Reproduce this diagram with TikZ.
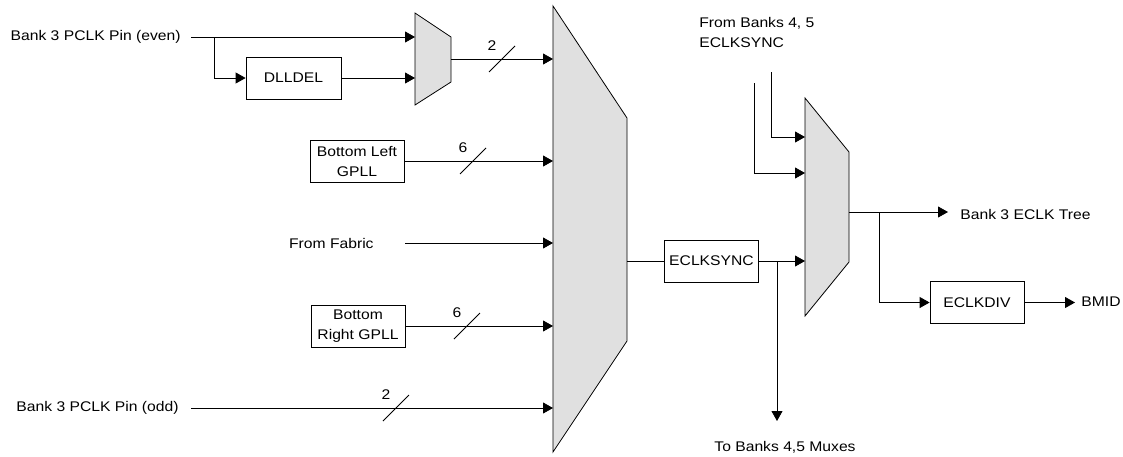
\documentclass[tikz,border=0pt]{standalone}
\usepackage{fontspec}
\setmainfont{Liberation Sans}[FakeStretch=1.12]
\usetikzlibrary{arrows.meta}
\definecolor{muxgray}{RGB}{224,224,224}
\begin{document}
\begin{tikzpicture}[x=1pt,y=-1pt, line width=0.8pt,
  arr/.style={-{Triangle[length=10pt,width=11pt]}},
  tfont/.style={font=\fontsize{14}{20}\selectfont},
  box/.style={draw, tfont, minimum width=94pt, minimum height=42pt, inner sep=0pt, align=center},
  lbl/.style={tfont, inner sep=0pt},
  mux/.style={draw, fill=muxgray, line join=miter}]
\useasboundingbox (0,0) rectangle (1123,456);

% --- first small mux and DLLDEL
\node[lbl, anchor=east] (even) at (181,37) {Bank 3 PCLK Pin (even)};
\coordinate (evenS) at (191,37);
\coordinate (split) at (214,37);
\node[box, minimum width=95pt] (dll) at (293.5,78) {DLLDEL};
\draw[mux] (415,13) -- (451,37) -- (451,82) -- (415,105) -- cycle;
\coordinate (m1a) at (415,37);
\coordinate (m1b) at (415,78);
\coordinate (m1o) at (451,59);
\draw[arr] (evenS) -- (m1a);
\draw[arr] (split) |- (dll.west);
\draw[arr] (dll.east) -- (m1b);

% --- big mux
\draw[mux] (553,6) -- (627,118) -- (627,341) -- (553,452) -- cycle;
\coordinate (bm1) at (553,59);
\coordinate (bm2) at (553,161);
\coordinate (bm3) at (553,243);
\coordinate (bm4) at (553,326);
\coordinate (bm5) at (553,408);
\coordinate (bmo) at (627,261);

\draw[arr] (m1o) -- (bm1);
\draw (502,59) ++(-13,13) -- ++(26,-26);
\node[lbl] (n2a) at (492,46) {2};

\node[box] (bl) at (357,161) {Bottom Left\\GPLL};
\draw[arr] (bl.east) -- (bm2);
\draw (473,161) ++(-13,13) -- ++(26,-26);
\node[lbl] (n6a) at (463,148) {6};

\node[lbl, anchor=east] (fab) at (374,243) {From Fabric};
\coordinate (fabS) at (405,243);
\draw[arr] (fabS) -- (bm3);

\node[box] (br) at (358,326) {Bottom\\Right GPLL};
\draw[arr] (br.east) -- (bm4);
\draw (467,326) ++(-13,13) -- ++(26,-26);
\node[lbl] (n6b) at (457,313) {6};

\node[lbl, anchor=east] (odd) at (179,408) {Bank 3 PCLK Pin (odd)};
\coordinate (oddS) at (191,408);
\draw[arr] (oddS) -- (bm5);
\draw (396,408) ++(-13,13) -- ++(26,-26);
\node[lbl] (n2b) at (386,395) {2};

% --- ECLKSYNC and second mux
\node[box] (es) at (711.5,261) {ECLKSYNC};
\draw (bmo) -- (es.west);
\draw[mux] (805,98) -- (849,152) -- (849,262) -- (805,316) -- cycle;
\coordinate (m2a) at (805,137);
\coordinate (m2b) at (805,173);
\coordinate (m2c) at (805,261);
\coordinate (m2o) at (849,212);
\draw[arr] (es.east) -- (m2c);
\coordinate (tap) at (777,261);
\coordinate (tbE) at (777,421);
\draw[arr] (tap) -- (tbE);
\node[lbl] (tb) at (785,447) {To Banks 4,5 Muxes};

\node[lbl, anchor=west, align=left] (fb) at (699,32) {From Banks 4, 5\\ECLKSYNC};
\coordinate (in1) at (771,72);
\coordinate (in2) at (754,83);
\draw[arr] (in1) |- (m2a);
\draw[arr] (in2) |- (m2b);

\coordinate (treeE) at (948,212);
\draw[arr] (m2o) -- (treeE);
\node[lbl, anchor=west] (tree) at (960,214) {Bank 3 ECLK Tree};
\coordinate (tap2) at (879,212);
\node[box] (ediv) at (977,302.5) {ECLKDIV};
\draw[arr] (tap2) |- (ediv.west);
\coordinate (bmidE) at (1075,302.5);
\draw[arr] (ediv.east) -- (bmidE);
\node[lbl, anchor=west] (bmid) at (1081,302) {BMID};
\end{tikzpicture}
\end{document}
